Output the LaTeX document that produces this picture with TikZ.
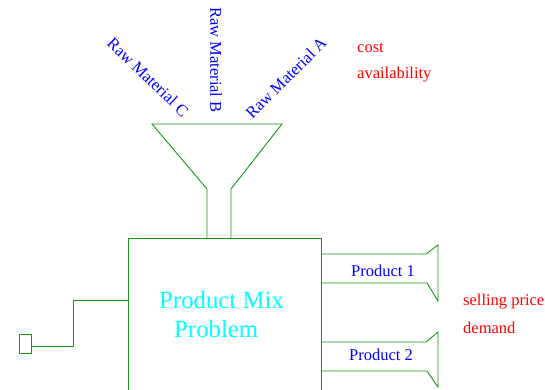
\documentclass[tikz,border=0pt]{standalone}
\usepackage{fontspec}
\setmainfont{Liberation Serif}
\definecolor{lgreen}{RGB}{20,150,20}
\definecolor{tblue}{RGB}{0,0,255}
\definecolor{tred}{RGB}{255,0,0}
\definecolor{tcyan}{RGB}{0,255,255}
\tikzset{
  outline/.style={draw=lgreen, line width=0.9pt, line join=miter},
  lab/.style={inner sep=0pt, font=\fontsize{16.5}{20}\selectfont},
  bluelab/.style={lab, text=tblue},
  redlab/.style={lab, text=tred, anchor=base west},
  biglab/.style={inner sep=0pt, anchor=base west, text=tcyan, font=\fontsize{24.8}{28}\selectfont}
}
\begin{document}
\begin{tikzpicture}[x=1pt,y=-1pt]
\useasboundingbox (0,0) rectangle (545,390);
% funnel
\coordinate (ftl) at (152,124);
\coordinate (ftr) at (282,124);
\coordinate (fnl) at (207,189);
\coordinate (fnr) at (231,189);
\coordinate (fsl) at (207,238);
\coordinate (fsr) at (231,238);
\draw[outline] (fsl) -- (fnl) -- (ftl) -- (ftr) -- (fnr) -- (fsr);
% main box (open at bottom)
\coordinate (bbl) at (128,391);
\coordinate (btl) at (128,238);
\coordinate (btr) at (321,238);
\coordinate (bbr) at (321,391);
\draw[outline] (bbl) -- (btl) -- (btr) -- (bbr);
% product 1 horn
\coordinate (p1a) at (321,254);
\coordinate (p1b) at (426,254);
\coordinate (p1c) at (438,245);
\coordinate (p1d) at (438,301);
\coordinate (p1e) at (427,283);
\coordinate (p1f) at (321,283);
\draw[outline] (p1a) -- (p1b) -- (p1c) -- (p1d) -- (p1e) -- (p1f);
% product 2 horn
\coordinate (p2a) at (321,342);
\coordinate (p2b) at (426,342);
\coordinate (p2c) at (438,332);
\coordinate (p2d) at (438,387);
\coordinate (p2e) at (427,371);
\coordinate (p2f) at (321,371);
\draw[outline] (p2a) -- (p2b) -- (p2c) -- (p2d) -- (p2e) -- (p2f);
% crank
\coordinate (c1) at (128,300);
\coordinate (c2) at (73,300);
\coordinate (c3) at (73,346);
\coordinate (c4) at (31,346);
\draw[outline] (c1) -- (c2) -- (c3) -- (c4);
\draw[outline] (19,334) rectangle (31,353);
% texts
\node[bluelab, rotate=-44] (rmc) at (148,77) {Raw Material C};
\node[bluelab, rotate=-90] (rmb) at (216,60) {Raw Material B};
\node[bluelab, rotate=45] (rma) at (286,78) {Raw Material A};
\node[redlab] (cost) at (357,53) {cost};
\node[redlab] (avail) at (357,79) {availability};
\node[bluelab, anchor=base west] (pr1) at (351,276) {Product 1};
\node[bluelab, anchor=base west] (pr2) at (349,360) {Product 2};
\node[redlab] (sp) at (463,305) {selling price};
\node[redlab] (dem) at (463,333) {demand};
\node[biglab] (pm1) at (159,308) {Product Mix};
\node[biglab] (pm2) at (174,337) {Problem};
\end{tikzpicture}
\end{document}
